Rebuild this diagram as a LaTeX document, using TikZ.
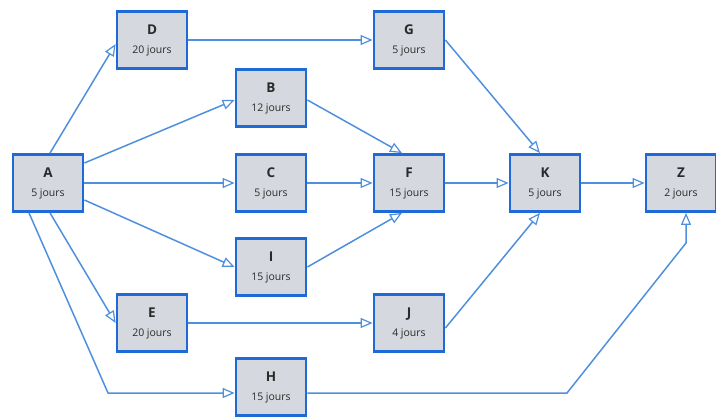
\documentclass[tikz,border=0pt]{standalone}
\usepackage{fontspec}
\setmainfont{Open Sans}
\usetikzlibrary{arrows.meta}
\definecolor{boxblue}{HTML}{1E6AD6}
\definecolor{boxfill}{HTML}{D5D8DE}
\definecolor{linkblue}{HTML}{4F90DE}
\definecolor{txt}{HTML}{2A2A2A}
\tikzset{
  task/.style={draw=boxblue, line width=2.8pt, fill=boxfill, minimum width=70pt, minimum height=57pt, inner sep=0pt, align=center, text=txt},
  link/.style={draw=linkblue, line width=1.5pt, -{Triangle[open, length=12pt, width=10pt, line width=1.2pt]}}
}
\newcommand{\tlabel}[2]{{\fontsize{13.5}{13.5}\selectfont\bfseries #1}\\[7pt]{\fontsize{10.5}{11}\selectfont #2}}
\begin{document}
\begin{tikzpicture}[x=1pt,y=-1pt]
\useasboundingbox (0,0) rectangle (716,417);
\node[task] (A) at (48,183) {\tlabel{A}{5 jours}};
\node[task] (D) at (152,40) {\tlabel{D}{20 jours}};
\node[task] (B) at (271,98) {\tlabel{B}{12 jours}};
\node[task] (C) at (271,183) {\tlabel{C}{5 jours}};
\node[task] (I) at (271,267) {\tlabel{I}{15 jours}};
\node[task] (E) at (152,323) {\tlabel{E}{20 jours}};
\node[task] (H) at (271,387) {\tlabel{H}{15 jours}};
\node[task] (G) at (409,40) {\tlabel{G}{5 jours}};
\node[task] (F) at (409,183) {\tlabel{F}{15 jours}};
\node[task] (J) at (409,323) {\tlabel{J}{4 jours}};
\node[task] (K) at (545,183) {\tlabel{K}{5 jours}};
\node[task] (Z) at (681,183) {\tlabel{Z}{2 jours}};
\coordinate (h1) at (108,393);
\coordinate (z1) at (567,393);
\coordinate (z2) at (686,243);
\draw[link] ([xshift=2pt]A.north) -- ([yshift=-4pt]D.west);
\draw[link] (D.east) -- (G.west);
\draw[link] ([yshift=20pt]A.east) -- ([yshift=-2pt]B.west);
\draw[link] (A.east) -- (C.west);
\draw[link] ([yshift=-17pt]A.east) -- (I.west);
\draw[link] ([xshift=2pt]A.south) -- (E.west);
\draw[link] ([xshift=-19pt]A.south) -- (h1) -- ([yshift=-6pt]H.west);
\draw[link] ([yshift=-2pt]B.east) -- ([xshift=-7pt]F.north);
\draw[link] (C.east) -- (F.west);
\draw[link] (I.east) -- ([xshift=-7pt]F.south);
\draw[link] (E.east) -- (J.west);
\draw[link] (G.east) -- ([xshift=-5pt]K.north);
\draw[link] (F.east) -- (K.west);
\draw[link] ([yshift=-5pt]J.east) -- ([xshift=-5pt]K.south);
\draw[link] (K.east) -- (Z.west);
\draw[link] ([yshift=-6pt]H.east) -- (z1) -- (z2) -- ([xshift=5pt]Z.south);
\end{tikzpicture}
\end{document}
